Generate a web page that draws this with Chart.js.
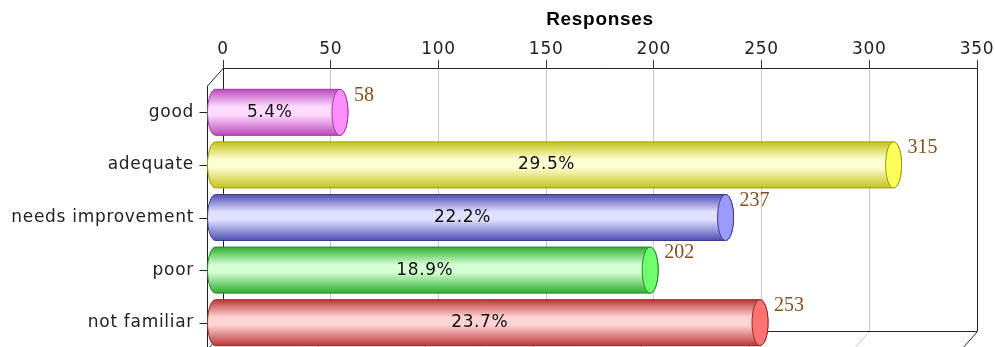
<!DOCTYPE html>
<html>
<head>
<meta charset="utf-8">
<script src="https://cdn.jsdelivr.net/npm/chart.js@4.4.1/dist/chart.umd.min.js"></script>
<style>
  html, body { margin: 0; padding: 0; background: #fff; }
  #wrap { width: 995px; height: 347px; position: relative; }
</style>
</head>
<body>
<div id="wrap"><canvas id="responsesChart"></canvas></div>
<script>
const categories = ['good', 'adequate', 'needs improvement', 'poor', 'not familiar']
const responses = [58, 315, 237, 202, 253]
const percentLabels = ['5.4%', '29.5%', '22.2%', '18.9%', '23.7%']
const xMin = 0
const xMax = 350
const xStep = 50

// cylinder colours: cap face, dark edge, highlight, outline
const capColors = ['#ff8eff', '#ffff5c', '#9a9aff', '#6eff6e', '#ff7272']
const edgeColors = ['#bb48bb', '#c4c41c', '#4e4eb4', '#2eae2e', '#bc3636']
const lightColors = ['#ffdcff', '#ffffd4', '#e0e0ff', '#d4ffd4', '#ffd4d4']
const outlineColors = ['#9c3c9c', '#9c9c10', '#3c3c90', '#208c20', '#962828']

// depth of the fake 3d box
const DEPTH_X = 16
const DEPTH_Y = 18

const line = (ctx, x1, y1, x2, y2, color) => {
    ctx.strokeStyle = color
    ctx.beginPath()
    ctx.moveTo(x1, y1)
    ctx.lineTo(x2, y2)
    ctx.stroke()
}

const frame3d = {
    id: 'frame3d',
    beforeDraw(chart) {
        chart.ctx.letterSpacing = '0.7px'
    },
    beforeDatasetsDraw(chart) {
        const { ctx, chartArea: a, scales } = chart
        ctx.save()
        ctx.lineWidth = 1
        // floor of the back wall and its receding grid lines
        for (let v = xMin; v <= xMax; v += xStep) {
            const x = Math.round(scales.x.getPixelForValue(v)) + 0.5
            const c = (v === xMin || v === xMax) ? '#222' : '#c4c4c4'
            line(ctx, x, a.bottom + 0.5, x - DEPTH_X, a.bottom + 0.5 + DEPTH_Y, c)
        }
        line(ctx, a.left, a.bottom + 0.5, a.right, a.bottom + 0.5, '#222')
        // front left edge
        const fx = Math.round(a.left - DEPTH_X) + 0.5
        line(ctx, a.left + 0.5, a.top, fx, a.top + DEPTH_Y, '#222')
        line(ctx, fx, a.top + DEPTH_Y, fx, a.bottom + DEPTH_Y + 2, '#222')
        // category tick marks on the front edge
        categories.forEach((c, i) => {
            const y = Math.round(scales.y.getPixelForValue(i) + DEPTH_Y) + 0.5
            line(ctx, fx - 8, y, fx, y, '#222')
        })
        ctx.restore()
    },
    afterDatasetsDraw(chart) {
        const { ctx } = chart
        const meta = chart.getDatasetMeta(0)
        ctx.save()
        meta.data.forEach((bar, i) => {
            const { x, y, base, height } = bar.getProps(['x', 'y', 'base', 'height'], true)
            const top = y - height / 2 + DEPTH_Y
            const bottom = y + height / 2 + DEPTH_Y
            const cy = y + DEPTH_Y
            const x0 = base - DEPTH_X / 2
            const x1 = x - DEPTH_X / 2
            const rx = DEPTH_X / 2
            const ry = height / 2

            const g = ctx.createLinearGradient(0, top, 0, bottom)
            g.addColorStop(0, edgeColors[i])
            g.addColorStop(0.38, lightColors[i])
            g.addColorStop(0.55, lightColors[i])
            g.addColorStop(1, edgeColors[i])

            ctx.beginPath()
            ctx.ellipse(x0, cy, rx, ry, 0, Math.PI / 2, Math.PI * 1.5)
            ctx.lineTo(x1, top)
            ctx.ellipse(x1, cy, rx, ry, 0, -Math.PI / 2, Math.PI / 2)
            ctx.closePath()
            ctx.fillStyle = g
            ctx.fill()
            ctx.lineWidth = 1
            ctx.strokeStyle = outlineColors[i]
            ctx.stroke()

            ctx.beginPath()
            ctx.ellipse(x1, cy, rx, ry, 0, 0, Math.PI * 2)
            ctx.fillStyle = capColors[i]
            ctx.fill()
            ctx.stroke()

            // share of responses in the middle of the bar
            ctx.letterSpacing = '0.6px'
            ctx.font = '17px "DejaVu Sans"'
            ctx.fillStyle = '#111'
            ctx.textAlign = 'center'
            ctx.textBaseline = 'middle'
            ctx.fillText(percentLabels[i], (base + x) / 2 - DEPTH_X, cy)

            // count past the end of the bar
            ctx.letterSpacing = '0px'
            ctx.font = '20px "Liberation Serif"'
            ctx.fillStyle = '#7f4f1f'
            ctx.textAlign = 'left'
            ctx.fillText(String(responses[i]), x + 6, top + 6)
        })
        ctx.restore()
    }
}

const ctx = document.getElementById('responsesChart').getContext('2d')
new Chart(ctx, {
    type: 'bar',
    data: {
        labels: categories,
        datasets: [{
            label: 'Responses',
            data: responses,
            backgroundColor: 'rgba(0,0,0,0)',
            borderWidth: 0,
            barPercentage: 0.875,
            categoryPercentage: 1
        }]
    },
    options: {
        indexAxis: 'y',
        responsive: true,
        maintainAspectRatio: false,
        animation: false,
        layout: { padding: { left: 0, right: 18, top: 0, bottom: 16 } },
        plugins: {
            legend: { display: false },
            tooltip: { enabled: false }
        },
        scales: {
            x: {
                position: 'top',
                min: xMin,
                max: xMax,
                afterFit: scale => { scale.height = 68 },
                ticks: {
                    stepSize: xStep,
                    padding: 0,
                    color: '#222',
                    font: { family: 'DejaVu Sans', size: 17 }
                },
                grid: {
                    tickLength: 8,
                    color: c => (c.tick && (c.tick.value === xMin || c.tick.value === xMax)) ? '#222' : '#c8c8c8',
                    tickColor: '#333'
                },
                border: { color: '#222' },
                title: {
                    display: true,
                    text: 'Responses',
                    color: '#000',
                    padding: { top: 8, bottom: 0 },
                    font: { family: 'Liberation Sans', weight: 'bold', size: 19, lineHeight: 1.2 }
                }
            },
            y: {
                // labels sit on the front plane, so the overflow padding is not needed
                afterFit: scale => {
                    scale.width = 223
                    scale.paddingTop = 0
                    scale.paddingBottom = 0
                },
                grid: { display: false },
                border: { display: false },
                ticks: {
                    padding: 21,
                    labelOffset: DEPTH_Y,
                    color: '#222',
                    font: { family: 'DejaVu Sans', size: 17 }
                }
            }
        }
    },
    plugins: [frame3d]
})
</script>
</body>
</html>
